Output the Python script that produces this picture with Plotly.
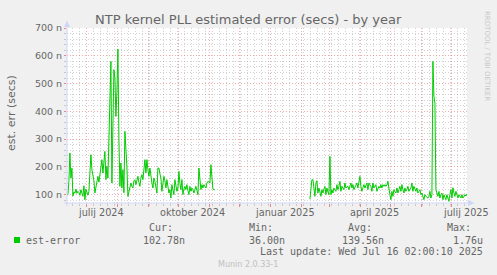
import pandas as pd
import plotly.graph_objects as go

# ---------------- data ----------------
# daily values (nanoseconds) of est-error, two segments with a gap in between
seg1_start = "2024-06-11"
seg1_values = [
    100, 100, 150, 250, 160, 195, 95, 110, 105, 120,
    105, 112, 108, 98, 118, 100, 94, 132, 82, 120,
    108, 98, 112, 160, 244, 190, 175, 150, 106, 130,
    142, 166, 145, 170, 190, 226, 178, 235, 256, 154,
    202, 160, 286, 420, 580, 142, 418, 550, 520, 382,
    470, 624, 300, 130, 214, 124, 190, 107, 328, 280,
    200, 94, 110, 118, 142, 130, 124, 150, 154, 136,
    150, 166, 145, 130, 160, 172, 154, 190, 226, 178,
    226, 190, 166, 196, 154, 142, 124, 160, 148, 130,
    106, 196, 196, 175, 160, 112, 142, 166, 150, 124,
    154, 130, 106, 118, 88, 136, 115, 100, 154, 125,
    112, 124, 184, 140, 118, 154, 100, 120, 130, 118,
    136, 115, 100, 130, 112, 124, 118, 106, 124, 130,
    115, 100, 196, 150, 118, 136, 124, 136, 130, 124,
    142, 148, 145, 142, 208, 166, 120, 118, 118,
]
seg2_start = "2025-02-09"
seg2_values = [
    84, 120, 154, 154, 110, 94, 142, 150, 106, 124,
    110, 94, 118, 106, 120, 130, 100, 124, 110, 100,
    238, 100, 118, 106, 124, 118, 112, 136, 118, 130,
    148, 112, 130, 124, 118, 142, 124, 128, 130, 118,
    135, 142, 124, 136, 118, 125, 130, 142, 124, 140,
    166, 130, 112, 125, 136, 124, 135, 142, 118, 142,
    135, 130, 112, 142, 124, 130, 136, 112, 124, 130,
    124, 136, 124, 136, 130, 136, 130, 135, 148, 112,
    100, 82, 112, 94, 118, 110, 106, 124, 106, 118,
    130, 112, 136, 118, 106, 124, 112, 118, 130, 112,
    118, 124, 142, 112, 130, 118, 112, 124, 106, 112,
    118, 100, 106, 94, 82, 100, 94, 90, 88, 94,
    112, 88, 100, 580, 454, 430, 118, 106, 94, 112,
    88, 100, 106, 82, 100, 90, 82, 100, 88, 76,
    100, 118, 88, 125, 106, 94, 112, 100, 88, 100,
    94, 88, 100, 88, 94, 100, 95, 103,
]
gap_date = "2024-12-20"

range_start = "2024-06-11 02:00"
range_end = "2025-07-16 02:00"

month_label_dates = ["2024-07-15", "2024-10-15", "2025-01-15", "2025-04-15", "2025-07-15"]
month_label_text = ["julij 2024", "oktober 2024", "januar 2025", "april 2025", "julij 2025"]

series_name = "est-error"
stat_cur, stat_min, stat_avg, stat_max = "102.78n", "36.00n", "139.56n", "1.76u"
last_update = "Last update: Wed Jul 16 02:00:10 2025"
title_text = "NTP kernel PLL estimated error (secs) - by year"
y_title = "est. err (secs)"

# ---------------- build ----------------
d1 = list(pd.date_range(seg1_start, periods=len(seg1_values), freq="D"))
d2 = list(pd.date_range(seg2_start, periods=len(seg2_values), freq="D"))
xs = d1 + [pd.Timestamp(gap_date)] + d2
ys = seg1_values + [None] + seg2_values

FONT = "DejaVu Sans"
MONO = "DejaVu Sans Mono"
TXT = "#666666"
W, H = 497, 275
L, R, T, B = 67, 30, 28, 72
PW, PH = W - L - R, H - T - B


def px(x):
    return (x - L) / PW


def py(y):
    return (T + PH - y) / PH


fig = go.Figure()
fig.add_trace(go.Scatter(
    x=xs, y=ys, mode="lines", connectgaps=False,
    line=dict(color="#00CC00", width=1), showlegend=False, hoverinfo="skip",
))

MGRID = "rgba(230,110,110,0.55)"
GRID = "rgba(140,140,140,0.40)"

fig.update_layout(
    width=W, height=H,
    margin=dict(l=L, r=R, t=T, b=B, pad=0),
    paper_bgcolor="#F0F0F0", plot_bgcolor="#FFFFFF",
    font=dict(family=FONT, color=TXT, size=10),
    showlegend=False,
    xaxis=dict(
        type="date", range=[range_start, range_end],
        dtick="M1", tick0="2024-07-01",
        showticklabels=False, showgrid=True, gridcolor=MGRID, griddash="1px,2px", gridwidth=1,
        ticks="outside", ticklen=3, tickcolor="rgba(230,110,110,0.8)",
        minor=dict(dtick=7 * 86400000, tick0="2024-06-10", showgrid=True, gridcolor=GRID,
                   griddash="1px,2px", gridwidth=1, ticks="outside", ticklen=2, tickcolor=GRID),
        zeroline=False, showline=False, fixedrange=True,
    ),
    yaxis=dict(
        range=[70, 700], tick0=0, dtick=100, ticksuffix=" n",
        tickfont=dict(size=9.5, color=TXT, family=FONT),
        showgrid=True, gridcolor=MGRID, griddash="1px,2px", gridwidth=1,
        ticks="outside", ticklen=2, tickcolor="rgba(230,110,110,0.8)",
        minor=dict(dtick=20, tick0=0, showgrid=True, gridcolor=GRID, griddash="1px,2px",
                   gridwidth=1, ticks="outside", ticklen=2, tickcolor=GRID),
        zeroline=False, showline=False, fixedrange=True,
    ),
)

AX = "#CFD6F8"
shapes = [
    # axis lines
    dict(type="line", xref="paper", yref="paper", x0=px(64), x1=px(470), y0=py(203), y1=py(203),
         line=dict(color=AX, width=1), layer="above"),
    dict(type="line", xref="paper", yref="paper", x0=px(67), x1=px(67), y0=py(206), y1=py(24),
         line=dict(color=AX, width=1), layer="above"),
    # arrows
    dict(type="path", xref="paper", yref="paper", layer="above",
         path=f"M {px(64)} {py(27)} L {px(67)} {py(20.5)} L {px(70)} {py(27)} Z",
         fillcolor=AX, line=dict(color=AX, width=0)),
    dict(type="path", xref="paper", yref="paper", layer="above",
         path=f"M {px(468)} {py(200)} L {px(474.5)} {py(203)} L {px(468)} {py(206)} Z",
         fillcolor=AX, line=dict(color=AX, width=0)),
    # legend colour box
    dict(type="rect", xref="paper", yref="paper", x0=px(14), x1=px(20), y0=py(243), y1=py(237),
         fillcolor="#00CC00", line=dict(color="#00CC00", width=0)),
]
fig.update_layout(shapes=shapes)

ann = []


def text(x, y, s, size=10, family=MONO, color=TXT, xanchor="left", angle=0):
    ann.append(dict(xref="paper", yref="paper", x=px(x), y=py(y), text=s, showarrow=False,
                    xanchor=xanchor, yanchor="middle", textangle=angle,
                    font=dict(family=family, size=size, color=color),
                    borderpad=0, borderwidth=0))


text(248.7, 19, title_text, size=13, family=FONT, xanchor="center")
text(11, 113, y_title, size=11, family=FONT, xanchor="center", angle=-90)
text(487, 56, "RRDTOOL / TOBI OETIKER", size=7, family=FONT, color="#C8C8C8",
     xanchor="center", angle=90)

for d, s in zip(month_label_dates, month_label_text):
    ann.append(dict(xref="x", yref="paper", x=d, y=py(212.7), text=s, showarrow=False,
                    xanchor="center", yanchor="middle",
                    font=dict(family=FONT, size=9.7, color=TXT), borderpad=0, borderwidth=0))

text(149, 227.3, "Cur:")
text(249, 227.3, "Min:")
text(347.7, 227.3, "Avg:")
text(446.7, 227.3, "Max:")
text(26, 240, series_name)
text(143.3, 240, stat_cur)
text(249, 240, stat_min)
text(342.3, 240, stat_avg)
text(453.3, 240, stat_max)
text(483, 251.7, last_update, xanchor="right")
text(248, 264, "Munin 2.0.33-1", size=8, family=FONT, color="#C0C0C0", xanchor="center")

fig.update_layout(annotations=ann)
fig.write_html("out.html")
